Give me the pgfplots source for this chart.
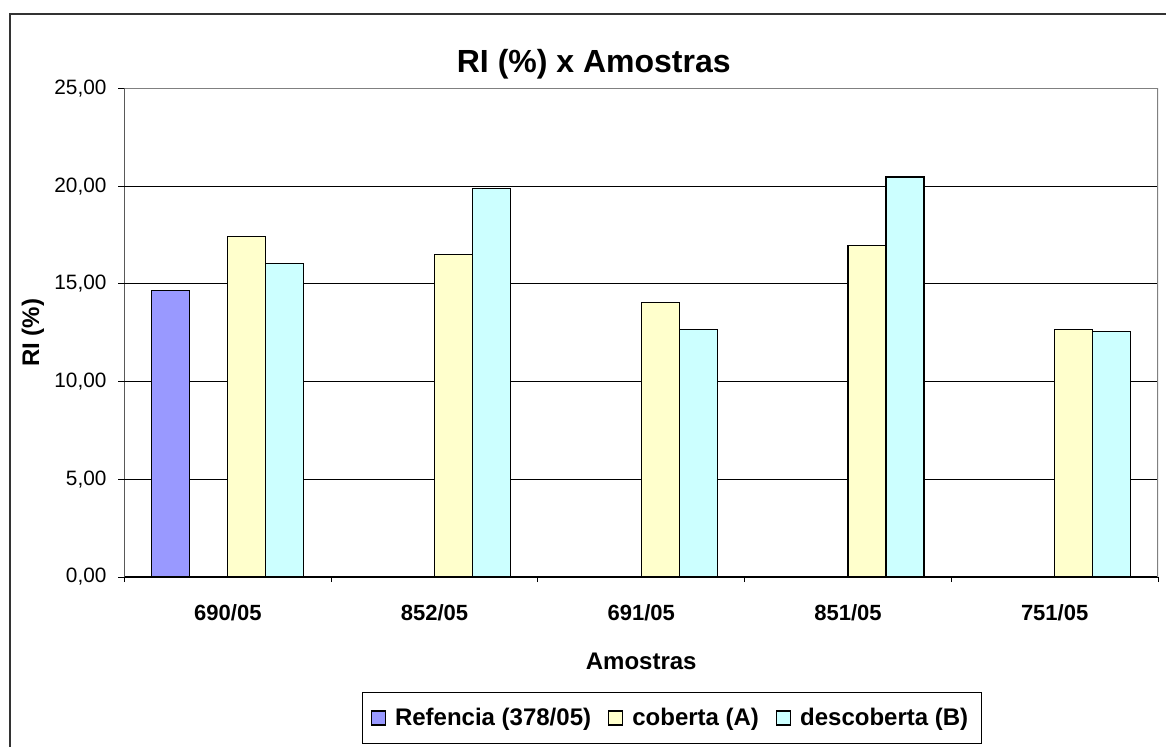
\documentclass[border=0pt]{standalone}
\usepackage{pgfplots}
\pgfplotsset{compat=1.18}
\usepackage{fontspec}
\setmainfont{Liberation Sans}
\definecolor{refc}{HTML}{9999FF}
\definecolor{cobc}{HTML}{FFFFCC}
\definecolor{desc}{HTML}{CCFFFF}
\begin{document}
\begin{tikzpicture}
\useasboundingbox (0,0) rectangle (583pt,373pt);
\clip (0,0) rectangle (583pt,373pt);
\draw[line width=0.7pt, color=black!80] (5pt,-20pt) -- (5pt,366pt) -- (600pt,366pt);
\begin{axis}[
  at={(62.25pt,84.5pt)}, anchor=south west,
  width=516.75pt, height=244.25pt, scale only axis,
  xmin=-0.5, xmax=4.5, ymin=0, ymax=25,
  ybar, bar width=19pt,
  xtick={0,...,4}, xticklabels={690/05,852/05,691/05,851/05,751/05},
  minor xtick={-0.5,0.5,1.5,2.5,3.5,4.5},
  ytick={0,5,...,25},
  xtick pos=bottom, ytick pos=left,
  ymajorgrids, grid style={black, line width=0.5pt},
  tick align=outside,
  major tick length=3pt, minor tick length=2.5pt,
  tick style={black, line width=0.5pt},
  major x tick style={draw=none},
  axis line style={draw=none},
  yticklabel style={font=\fontsize{10.4}{12}\selectfont, xshift=-2.5pt},
  xticklabel style={font=\bfseries\fontsize{11}{13}\selectfont, yshift=-7pt},
  /pgf/number format/.cd, fixed, fixed zerofill, precision=2, use comma, assume math mode=true,
  /pgfplots/.cd,
  xlabel={Amostras}, ylabel={RI (\%)},
  xlabel style={font=\bfseries\fontsize{12}{14}\selectfont, at={(axis description cs:0.5,-0.1734)}, anchor=center},
  ylabel style={font=\bfseries\fontsize{12}{14}\selectfont, at={(axis description cs:-0.0885,0.5)}, anchor=center},
  title={RI (\%) x Amostras},
  title style={font=\bfseries\fontsize{16}{19}\selectfont, at={(axis description cs:0.4541,1.0256)}, anchor=center},
  legend columns=3,
  legend style={at={(axis description cs:0.5298,-0.2886)}, anchor=center, draw=black, line width=0.6pt,
    font=\bfseries\fontsize{12}{14}\selectfont, inner xsep=4pt, inner ysep=5pt,
    nodes={inner sep=2.5pt},
    /tikz/every odd column/.append style={column sep=2pt},
    /tikz/every even column/.append style={column sep=6pt}},
  every axis plot/.append style={draw=black, line width=0.6pt,
    legend image code/.code={\draw[#1, line width=0.6pt] (0pt,-3.5pt) rectangle (7pt,3.5pt);}},
]
\addplot[fill=refc, bar shift=-28.5pt] coordinates {(0,14.65)};
\addplot[fill=cobc, bar shift=9.5pt] coordinates {(0,17.44) (1,16.51) (2,14.06) (3,16.96) (4,12.66)};
\addplot[fill=desc, bar shift=28.5pt] coordinates {(0,16.05) (1,19.87) (2,12.66) (3,20.47) (4,12.55)};
\legend{Refencia (378/05), coberta (A), descoberta (B)}
\draw[black, line width=0.6pt] (rel axis cs:0,1) -- (rel axis cs:0,0) -- (rel axis cs:1,0);
\draw[gray, line width=0.8pt] (rel axis cs:0,1) -- (rel axis cs:1,1) -- (rel axis cs:1,0);
\end{axis}
\end{tikzpicture}
\end{document}
